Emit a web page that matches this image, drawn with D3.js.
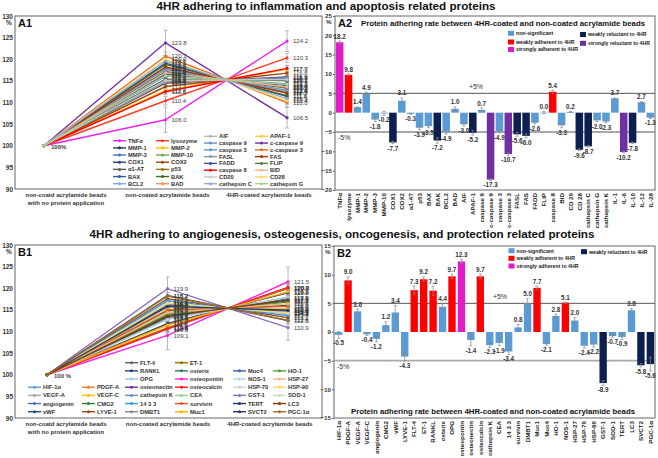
<!DOCTYPE html>
<html><head><meta charset="utf-8">
<script src="https://cdn.jsdelivr.net/npm/d3@7"></script>
<style>
body{margin:0;background:#fff}
text{font-family:"Liberation Sans",Arial,sans-serif}
</style>
</head><body>
<svg id="c" width="658" height="458"></svg>
<script>
// ---------------- DATA ----------------
const stages = ["non-coatd acrylamide beads|with no protein application", "non-coated acrylamide beads", "4HR-coated acrylamide beads"];
const lineTicks = [90, 95, 100, 105, 110, 115, 120, 125, 130];

// A1 series
const a1Names = ["TNFα","lysozyme","MMP-1","MMP-2","MMP-3","MMP-10","COX1","COX2","α1-AT","p53","BAX","BAK","BCL2","BAD",
  "AIF","APAF-1","caspase 9","c-caspase 9","caspase 3","c-caspase 3","FASL","FAS","FADD","FLIP","caspase 8","BID","CD20","CD28","cathepsin C","cathepsin G"];
const a1Start = [100,100,100,100,100,100,100,100,100,100,100,100,100,100,100,100,100,100,100,100,100,100,100,100,100,100,100,100,100,100];
const a1NonCoated = [106.0,110.4,114.5,112.8,116.1,115.3,119.1,113.7,115.4,117.2,117.0,118.8,117.7,114.7,
  116.7,117.8,114.9,123.8,117.7,120.7,118.0,118.2,116.5,115.2,112.5,116.9,115.1,120.0,119.6,116.2];
const a1Coated = [124.2,120.3,115.9,117.7,114.3,115.1,111.4,116.8,115.1,113.3,113.5,111.6,112.8,115.7,
  113.7,112.6,115.6,106.5,112.8,110.0,112.4,112.2,113.9,115.2,117.9,113.6,115.3,110.4,110.9,114.2];
const a1ErrNon = [2.9,1.0,0.6,0.8,0.6,0.5,0.8,0.7,0.5,0.6,0.6,0.8,0.6,0.5,0.6,0.7,0.5,2.9,0.6,1.0,0.7,0.7,0.6,0.5,0.7,0.6,0.5,0.8,0.8,0.6];
const a1ErrCoated = [2.4,1.0,0.6,0.8,0.6,0.5,0.8,0.7,0.5,0.6,0.6,0.8,0.6,0.5,0.6,0.7,0.5,2.4,0.6,1.0,0.7,0.7,0.6,0.5,0.7,0.6,0.5,0.8,0.8,0.6];
const a1Colors = ["#ee22ee","#ff3b1f","#1f3864","#ffc000","#4472c4","#70ad47","#264478","#9e480e","#5a5a5a","#997300","#255e91","#43682b","#7cafdd","#f1975a",
  "#b7b7b7","#ffcd33","#698ed0","#7030a0","#5b9bd5","#e07020","#8497b0","#a5300f","#2f5597","#548235","#ff0000","#f4b183","#c9c9c9","#ffd966","#8faadc","#a9d18e"];

// A2 bars
const a2Names = ["TNFα","lysozyme","MMP-1","MMP-2","MMP-3","MMP-10","COX1","COX2","α1-AT","p53","BAX","BAK","BCL2","BAD","AIF","APAF-1",
  "caspase 9","c-caspase 9","caspase 3","c-caspase 3","FASL","FAS","FADD","FLIP","caspase 8","BID","CD 20","CD 28","cathepsin C","cathepsin G",
  "cathepsin K","IL-1","IL-6","IL-10","IL-12","IL-28"];
const a2Values = [18.2,9.8,1.4,4.9,-1.8,-0.2,-7.7,3.1,-0.3,-3.9,-3.5,-7.2,-4.9,1.0,-3.0,-5.2,0.7,-17.3,-4.9,-10.7,-5.6,-6.0,-2.6,0.0,5.4,-3.3,0.2,-9.6,-8.7,-2.0,-2.3,3.7,-10.2,-7.8,2.7,-1.3];
const a2Errors = [0.3,0.2,0.1,0.4,0.5,0.5,0.3,0.7,0.1,0.5,0.4,0.7,0.6,0.5,0.4,0.6,0.5,0.2,0.3,0.3,0.5,0.5,0.3,0.3,0.4,0.6,0.1,0.2,0.2,0.3,0.3,0.1,0.2,0.2,0.1,0.2];
const a2Class = ["sa","wa","ns","ns","ns","ns","wr","ns","ns","ns","ns","wr","ns","ns","ns","wr","ns","sr","ns","sr","wr","wr","ns","ns","wa","ns","ns","wr","wr","ns","ns","ns","sr","wr","ns","ns"];
const a2Ticks = [-20,-15,-10,-5,0,5,10,15,20,25];

// B1 series
const b1Names = ["HIF-1α","PDGF-A","VEGF-A","VEGF-C","angiogenin","CMG2","vWF","LYVE-1",
  "FLT-4","ET-1","RANKL","osterix","OPG","osteopontin","osteonectin","osteocalcin","cathepsin K","CEA","14 3 3","survivin","DMBT1","Muc1",
  "Muc4","HO-1","NOS-1","HSP-27","HSP-70","HSP-90","GST-1","SOD-1","TERT","LC3","SVCT2","PGC-1α"];
const b1Start = [100,100,100,100,100,100,100,100,100,100,100,100,100,100,100,100,100,100,100,100,100,100,100,100,100,100,100,100,100,100,100,100,100,100];
const b1NonCoated = [115.6,110.9,113.6,115.6,116.0,114.8,113.7,117.6,111.8,110.8,111.8,113.2,110.5,109.1,116.1,110.6,116.5,116.3,117.1,115.0,112.9,111.5,
  116.4,114.0,112.8,114.4,116.6,116.5,119.9,115.7,115.8,113.5,118.3,118.2];
const b1Coated = [115.2,119.9,117.2,115.2,114.8,116.0,117.1,113.2,119.0,120.0,119.0,117.6,120.2,121.5,114.7,120.2,114.2,114.4,113.7,115.8,117.9,119.2,
  114.3,116.8,117.9,116.4,114.2,114.3,110.9,115.0,114.9,117.3,112.5,112.6];
const b1ErrNon = [0.6,0.8,0.6,0.5,0.5,0.6,0.8,0.7,0.7,0.8,0.7,0.6,0.8,3.3,0.6,0.8,0.6,0.6,0.6,0.5,0.7,0.8,0.6,0.6,0.7,0.6,0.6,0.6,2.7,0.5,0.5,0.6,0.7,0.8];
const b1ErrCoated = [0.6,0.8,0.6,0.5,0.5,0.6,0.8,0.7,0.7,0.8,0.7,0.6,0.8,3.4,0.6,0.8,0.6,0.6,0.6,0.5,0.7,0.8,0.6,0.6,0.7,0.6,0.6,0.6,2.9,0.5,0.5,0.6,0.7,0.8];
const b1Colors = ["#5b9bd5","#ed7d31","#a5a5a5","#ffc000","#4472c4","#2e7d32","#1f4e79","#9e480e",
  "#636363","#997300","#264478","#2a7a6a","#9dc3e6","#ff22dd","#7030a0","#ff1a1a","#698ed0","#8fd18e","#2e9ae6","#f4511e","#8c8c8c","#ffb000",
  "#3c5fa8","#5a9a3a","#b4d2f0","#f4b183","#d0d0d0","#ffd966","#8e6bbf","#c5e0b4","#203864","#843c0c","#2b3a5a","#a07030"];

// B2 bars
const b2Names = b1Names.slice();
const b2Values = [-0.5,9.0,3.6,-0.4,-1.2,1.2,3.4,-4.3,7.3,9.2,7.2,4.4,9.7,12.3,-1.4,9.7,-2.3,-1.9,-3.4,0.8,5.0,7.7,-2.1,2.8,5.1,2.0,-2.4,-2.2,-8.9,-0.7,-0.9,3.8,-5.8,-5.6];
const b2Errors = [0.6,0.6,0.4,0.2,0.5,0.6,1.2,0.8,0.7,0.4,0.8,0.5,0.4,0.4,1.0,0.4,0.4,0.5,0.5,0.5,0.8,0.3,0.2,0.3,0.1,0.5,0.4,0.4,0.4,0.2,0.4,0.3,0.3,1.2];
const b2Class = ["ns","wa","ns","ns","ns","ns","ns","ns","wa","wa","wa","ns","wa","sa","ns","wa","ns","ns","ns","ns","ns","wa","ns","ns","wa","ns","ns","ns","wr","ns","ns","ns","wr","wr"];
const b2Ticks = [-15,-10,-5,0,5,10,15];

const classColor = {ns:"#5b9bd5", wa:"#ff0000", sa:"#e21bc9", wr:"#0c1f4f", sr:"#7030a0"};
const classLabel = {ns:"non-significant", wa:"weakly adherent to 4HR", sa:"strongly adherent to 4HR", wr:"weakly reluctant to 4HR", sr:"strongly reluctant to 4HR"};

// ---------------- DRAW ----------------
const svg = d3.select("#c");
const F = "Liberation Sans, Arial, sans-serif";

function title(txt, cx, y, len) {
  svg.append("text").attr("x", cx).attr("y", y).attr("text-anchor", "middle")
    .attr("font-size", 10.5).attr("font-weight", "bold").attr("fill", "#111")
    .attr("textLength", len).attr("lengthAdjust", "spacingAndGlyphs").text(txt);
}

function linePanel(o) {
  const y = d3.scaleLinear().domain([90, 130]).range([o.y1, o.y0]);
  const x = d3.scalePoint().domain(stages).range([o.px0, o.px1]);
  const xl = d3.scalePoint().domain(stages).range([o.lx0, o.lx1]);
  const g = svg.append("g");
  g.append("rect").attr("x", o.x0).attr("y", o.y0).attr("width", o.x1 - o.x0).attr("height", o.y1 - o.y0)
    .attr("fill", "none").attr("stroke", "#666").attr("stroke-width", 1);
  const ax = g.append("g").attr("transform", `translate(${o.x0},0)`)
    .call(d3.axisLeft(y).tickValues(lineTicks).tickSize(0).tickPadding(2));
  ax.select(".domain").remove();
  ax.selectAll("text").attr("font-size", 6.5).attr("font-weight", "bold").attr("fill", "#333").attr("font-family", F);
  g.append("text").attr("x", o.x0 - 9).attr("y", o.y0 + 9).attr("font-size", 6.5).attr("font-weight", "bold").attr("fill", "#333").text("%");
  g.append("text").attr("x", o.x0 + 3).attr("y", o.y0 + 11).attr("font-size", 11).attr("font-weight", "bold").attr("fill", "#111").text(o.label);
  // category labels
  stages.forEach(s => {
    const parts = s.split("|");
    parts.forEach((p, k) => {
      g.append("text").attr("x", xl(s)).attr("y", o.y1 + 8 + k * 8).attr("text-anchor", "middle")
        .attr("font-size", 6).attr("font-weight", "bold").attr("fill", "#333").text(p);
    });
  });
  const n = o.names.length;
  // error bars
  const eb = g.append("g").attr("stroke", "#a6a6a6").attr("stroke-width", 0.8);
  for (let i = 0; i < n; i++) {
    [[stages[1], o.non[i], o.eNon[i]], [stages[2], o.coat[i], o.eCoat[i]]].forEach(([s, v, e]) => {
      const cx = x(s);
      eb.append("line").attr("x1", cx).attr("x2", cx).attr("y1", y(v - e)).attr("y2", y(v + e));
      eb.append("line").attr("x1", cx - 2).attr("x2", cx + 2).attr("y1", y(v - e)).attr("y2", y(v - e));
      eb.append("line").attr("x1", cx - 2).attr("x2", cx + 2).attr("y1", y(v + e)).attr("y2", y(v + e));
    });
  }
  const line = d3.line().x(d => x(d[0])).y(d => y(d[1]));
  for (let i = 0; i < n; i++) {
    const pts = [[stages[0], o.start[i]], [stages[1], o.non[i]], [stages[2], o.coat[i]]];
    g.append("path").attr("d", line(pts)).attr("fill", "none").attr("stroke", o.colors[i]).attr("stroke-width", 1.4);
    pts.forEach(p => g.append("circle").attr("cx", x(p[0])).attr("cy", y(p[1])).attr("r", 1.6).attr("fill", o.colors[i]));
  }
  // value labels
  for (let i = 0; i < n; i++) {
    g.append("text").attr("x", x(stages[1]) + 6).attr("y", y(o.non[i]) + 2.2).attr("font-size", 6).attr("fill", "#404040").text(o.non[i].toFixed(1));
    g.append("text").attr("x", x(stages[2]) + 6).attr("y", y(o.coat[i]) + 2.2).attr("font-size", 6).attr("fill", "#404040").text(o.coat[i].toFixed(1));
  }
  g.append("text").attr("x", x(stages[0]) + 7).attr("y", y(100) + 3).attr("font-size", 6).attr("font-weight", "bold").attr("fill", "#404040").text(o.startLabel);
  // legend
  const lg = g.append("g");
  for (let i = 0; i < n; i++) {
    const [lx, ly] = o.legendPos(i);
    lg.append("line").attr("x1", lx).attr("x2", lx + 13).attr("y1", ly).attr("y2", ly).attr("stroke", o.colors[i]).attr("stroke-width", 1.4);
    lg.append("circle").attr("cx", lx + 6.5).attr("cy", ly).attr("r", 1.5).attr("fill", o.colors[i]);
    lg.append("text").attr("x", lx + 15).attr("y", ly + 2).attr("font-size", 5.8).attr("font-weight", "bold").attr("fill", "#333").text(o.names[i]);
  }
}

function barPanel(o) {
  const y = d3.scaleLinear().domain([o.ticks[0], o.ticks[o.ticks.length - 1]]).range([o.y1, o.y0]);
  const x = d3.scaleBand().domain(o.names).range([o.x0, o.x1]).paddingInner(o.pad).paddingOuter(0.1);
  const g = svg.append("g");
  g.append("rect").attr("x", o.x0).attr("y", o.y0).attr("width", o.x1 - o.x0).attr("height", o.y1 - o.y0)
    .attr("fill", "none").attr("stroke", "#666").attr("stroke-width", 1);
  const ax = g.append("g").attr("transform", `translate(${o.x0},0)`)
    .call(d3.axisLeft(y).tickValues(o.ticks).tickSize(2).tickPadding(1));
  ax.select(".domain").remove();
  ax.selectAll("line").attr("stroke", "#666");
  ax.selectAll("text").attr("font-size", 6.2).attr("font-weight", "bold").attr("fill", "#333").attr("font-family", F);
  g.append("text").attr("x", o.x0 - 9).attr("y", o.y0 + 8).attr("font-size", 6.2).attr("font-weight", "bold").attr("fill", "#333").text("%");
  g.append("text").attr("x", o.x0 + 3).attr("y", o.y0 + 11).attr("font-size", 11).attr("font-weight", "bold").attr("fill", "#111").text(o.label);
  // reference lines
  g.append("line").attr("x1", o.x0).attr("x2", o.x1).attr("y1", y(5)).attr("y2", y(5)).attr("stroke", "#555").attr("stroke-width", 1);
  g.append("line").attr("x1", o.x0).attr("x2", o.x1).attr("y1", y(-5)).attr("y2", y(-5)).attr("stroke", o.minusColor).attr("stroke-width", o.minusWidth);
  g.append("text").attr("x", o.plusX).attr("y", y(5) - 4).attr("text-anchor", "middle").attr("font-size", 7).attr("fill", "#333").text("+5%");
  g.append("text").attr("x", o.x0 + 3).attr("y", y(-5) + 8).attr("font-size", 7).attr("fill", "#333").text("-5%");
  // title
  g.append("text").attr("x", o.titleX).attr("y", o.titleY).attr("text-anchor", "middle").attr("font-size", 7).attr("font-weight", "bold").attr("fill", "#111")
    .attr("textLength", 284).attr("lengthAdjust", "spacingAndGlyphs").text("Protein adhering rate between 4HR-coated and non-coated acrylamide beads");
  // bars
  o.names.forEach((nm, i) => {
    const v = o.values[i], e = o.errors[i];
    const bx = x(nm), bw = x.bandwidth();
    g.append("rect").attr("x", bx).attr("y", y(Math.max(0, v))).attr("width", bw)
      .attr("height", Math.max(0.6, Math.abs(y(v) - y(0)))).attr("fill", classColor[o.cls[i]]);
    const cx = bx + bw / 2;
    g.append("line").attr("x1", cx).attr("x2", cx).attr("y1", y(v - e)).attr("y2", y(v + e)).attr("stroke", "#888").attr("stroke-width", 0.7);
    [v - e, v + e].forEach(t => g.append("line").attr("x1", cx - 1.5).attr("x2", cx + 1.5).attr("y1", y(t)).attr("y2", y(t)).attr("stroke", "#888").attr("stroke-width", 0.7));
    const ly = v >= 0 ? y(v + e) - 2.5 : y(v - e) + 7;
    g.append("text").attr("x", cx).attr("y", ly).attr("text-anchor", "middle").attr("font-size", 6.3).attr("font-weight", "bold").attr("fill", "#333").text(v.toFixed(1));
    g.append("text").attr("transform", `translate(${cx + 2.2},${o.y1 + 3}) rotate(-90)`).attr("text-anchor", "end")
      .attr("font-size", 6.2).attr("font-weight", "bold").attr("fill", "#222").text(nm);
  });
  // legend
  o.legend.forEach(([c, lx, ly]) => {
    g.append("rect").attr("x", lx).attr("y", ly - 2.5).attr("width", 6).attr("height", 5).attr("fill", classColor[c]);
    g.append("text").attr("x", lx + 8).attr("y", ly + 1.8).attr("font-size", 5.2).attr("font-weight", "bold").attr("fill", "#222").text(classLabel[c]);
  });
}

title("4HR adhering to inflammation and apoptosis related proteins", 326, 10, 339);
title("4HR adhering to angiogenesis, osteogenesis, oncogenesis, and protection related proteins", 342, 238, 505);

linePanel({
  label: "A1", x0: 15, x1: 322, y0: 16, y1: 189, px0: 44, px1: 287, lx0: 66, lx1: 269,
  names: a1Names, start: a1Start, non: a1NonCoated, coat: a1Coated, eNon: a1ErrNon, eCoat: a1ErrCoated, colors: a1Colors,
  startLabel: "100%",
  legendPos: i => {
    const cols = [113, 156, 204, 255];
    if (i < 14) return [cols[i % 2], 140.7 + 7.17 * Math.floor(i / 2)];
    const j = i - 14;
    return [cols[2 + j % 2], 136.3 + 6.77 * Math.floor(j / 2)];
  }
});

linePanel({
  label: "B1", x0: 15, x1: 322, y0: 245, y1: 418, px0: 47, px1: 288, lx0: 66, lx1: 270,
  names: b1Names, start: b1Start, non: b1NonCoated, coat: b1Coated, eNon: b1ErrNon, eCoat: b1ErrCoated, colors: b1Colors,
  startLabel: "100 %",
  legendPos: i => {
    const cols = [28, 82, 125, 175, 233, 273];
    if (i < 8) return [cols[i % 2], 362.7 + 8.17 * (3 + Math.floor(i / 2))];
    if (i < 22) { const j = i - 8; return [cols[2 + j % 2], 362.7 + 8.17 * Math.floor(j / 2)]; }
    const j = i - 22; return [cols[4 + j % 2], 362.7 + 8.17 * (1 + Math.floor(j / 2))];
  }
});

barPanel({
  label: "A2", x0: 335, x1: 655, y0: 16, y1: 190, pad: 0.15,
  names: a2Names, values: a2Values, errors: a2Errors, cls: a2Class, ticks: a2Ticks,
  minusColor: "#555", minusWidth: 1, plusX: 476, titleX: 503, titleY: 26,
  legend: [["ns", 508, 33.3], ["wa", 508, 42], ["sa", 508, 49.5], ["wr", 580, 34.5], ["sr", 580, 43.3]]
});

barPanel({
  label: "B2", x0: 334, x1: 655, y0: 246, y1: 418, pad: 0.22,
  names: b2Names, values: b2Values, errors: b2Errors, cls: b2Class, ticks: b2Ticks,
  minusColor: "#aaa", minusWidth: 1.6, plusX: 500, titleX: 493, titleY: 414,
  legend: [["ns", 508.5, 250.7], ["wa", 508.5, 258.3], ["sa", 508.5, 266], ["wr", 581, 251.7]]
});
</script>
</body></html>
